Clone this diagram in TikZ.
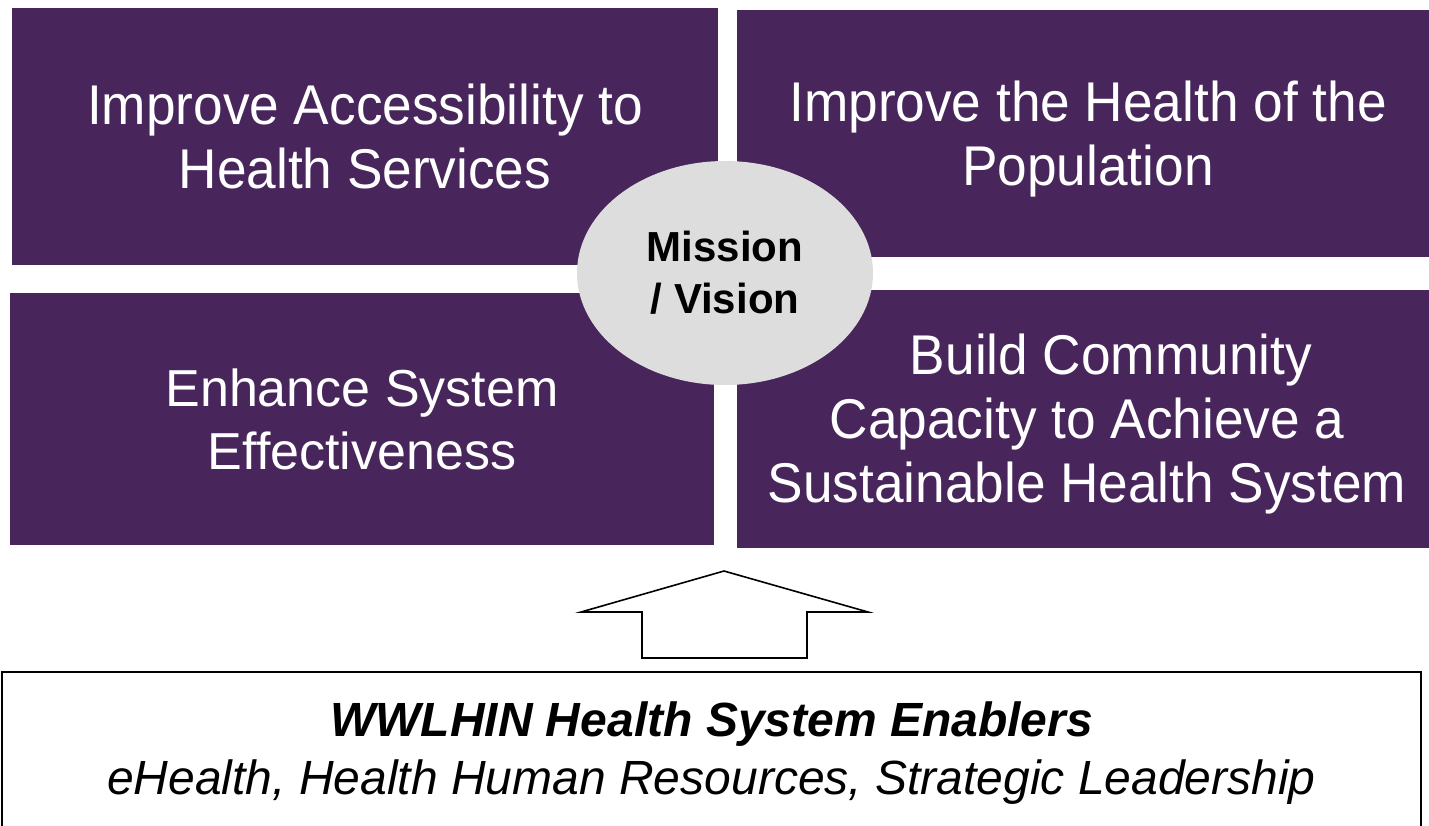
\documentclass[tikz,border=0pt]{standalone}
\usepackage{fontspec}
\setmainfont{Liberation Sans}
\newfontfamily\narrowsans[FakeStretch=0.95]{Liberation Sans}
\usepackage{tikz}
\usetikzlibrary{shapes.geometric}
\definecolor{goalpurple}{HTML}{48265C}
\definecolor{missiongray}{HTML}{DDDDDD}

\begin{document}
\begin{tikzpicture}[x=0.5pt,y=-0.5pt,
  goal/.style={fill=goalpurple, inner sep=0pt},
  goaltext/.style={text=white, inner sep=0pt, align=center},
  wide/.style={font=\fontsize{26}{31.5}\selectfont},
  narrow/.style={font=\narrowsans\fontsize{28}{32}\selectfont}]
\useasboundingbox (0,0) rectangle (1429,825);
%goals
\node[goal, minimum width=353pt, minimum height=128.5pt] (access) at (365,136.5) {};
\node[goal, minimum width=346pt, minimum height=123.5pt] (population) at (1083,133.5) {};
\node[goal, minimum width=352pt, minimum height=126pt] (effective) at (362,419) {};
\node[goal, minimum width=346pt, minimum height=129pt] (capacity) at (1083,419) {};
\node[goaltext, narrow] (accesstext) at (access.center) {Improve Accessibility to\\Health Services};
\node[goaltext, narrow] (populationtext) at ([xshift=2.5pt,yshift=-3pt]population.center) {Improve the Health of the\\Population};
\node[goaltext, wide] (effectivetext) at (effective.center) {Enhance System\\Effectiveness};
\node[goaltext, narrow] (capacitytext) at ([xshift=2pt,yshift=-2.5pt]capacity.center) {\hspace*{24pt}Build Community\\Capacity to Achieve a\\Sustainable Health System};
\node[ellipse, fill=missiongray, inner sep=0pt, minimum width=148pt, minimum height=112pt, align=center, font=\bfseries\fontsize{21}{26}\selectfont] (mission) at (725,273) {Mission\\/ Vision};
%enablers
\node[draw, line width=1pt, inner sep=0pt, minimum width=709.5pt, minimum height=81.5pt, align=center, font=\itshape\fontsize{24}{29}\selectfont] (enablers) at (711.5,753.5) {\textbf{WWLHIN Health System Enablers}\\eHealth, Health Human Resources, Strategic Leadership};
\draw[line width=0.8pt, line join=miter] (642,658) -- (807,658) -- (807,612) -- (868,612) -- (724,571) -- (581,612) -- (642,612) -- cycle;
\end{tikzpicture}
\end{document}
